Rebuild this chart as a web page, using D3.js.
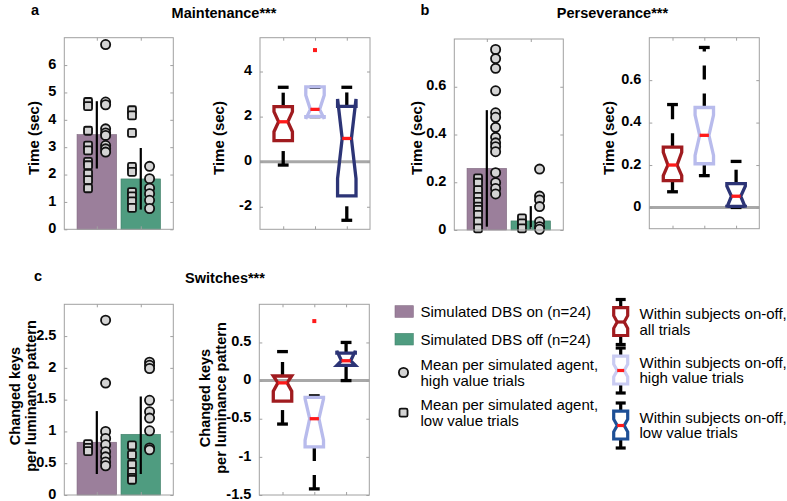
<!DOCTYPE html>
<html><head><meta charset="utf-8">
<script src="https://cdn.jsdelivr.net/npm/d3@7"></script>
<style>
body{margin:0;background:#fff}
svg{display:block}
text{font-family:Arial,Helvetica,"Liberation Sans",sans-serif;fill:#000}
</style>
</head><body>
<svg id="chart" width="787" height="501"></svg>
<script>
// ---------------- DATA ----------------
const groupNames = ["Simulated DBS on (n=24)", "Simulated DBS off (n=24)"];
const boxNames = ["all trials", "high value trials", "low value trials"];

// Panel a: Maintenance
const maintMeans = [3.46, 1.84];
const maintErrLo = [2.22, 0.72];
const maintErrHi = [4.68, 2.97];
const maintOnLow = [4.65, 4.5, 3.6, 3.06, 2.88, 2.46, 2.34, 2.03, 1.8, 1.5];
const maintOnHigh = [6.75, 4.65, 4.55, 3.67, 3.52, 3.43, 3.06, 2.94, 2.82];
const maintOffLow = [4.35, 4.16, 3.52, 2.28, 2.1, 1.36, 1.2, 1.02, 0.78];
const maintOffHigh = [2.3, 1.85, 1.5, 1.3, 1.06, 0.76];
const maintBarTicks = [0, 1, 2, 3, 4, 5, 6];
const maintBarTickLabels = ["0", "1", "2", "3", "4", "5", "6"];
// boxes: [all, high, low]
const maintQ1 = [0.93, 2.0, -1.52];
const maintMed = [1.77, 2.32, 1.03];
const maintQ3 = [2.44, 3.32, 2.45];
const maintNotchLo = [1.33, 1.9, -0.75];
const maintNotchHi = [2.22, 2.95, 2.78];
const maintWhiskLo = [-0.15, 2.0, -2.6];
const maintWhiskHi = [3.3, 3.3, 3.3];
const maintOutliers = [[], [4.95], []];
const maintBoxTicks = [-2, 0, 2, 4];
const maintBoxTickLabels = ["-2", "0", "2", "4"];

// Panel b: Perseverance
const persMeans = [0.258, 0.038];
const persErrLo = [0.014, 0.005];
const persErrHi = [0.502, 0.1];
const persOnLow = [0.216, 0.198, 0.167, 0.139, 0.118, 0.098, 0.084, 0.063, 0.035, 0.007];
const persOnHigh = [0.756, 0.718, 0.677, 0.583, 0.491, 0.472, 0.43, 0.388, 0.365, 0.349, 0.328, 0.24, 0.198, 0.174, 0.151];
const persOffLow = [0.049, 0.028, 0.007];
const persOffHigh = [0.255, 0.142, 0.126, 0.098, 0.035, 0.014, 0.003];
const persBarTicks = [0, 0.2, 0.4, 0.6];
const persBarTickLabels = ["0", "0.2", "0.4", "0.6"];
const persQ1 = [0.127, 0.206, 0.005];
const persMed = [0.2, 0.34, 0.053];
const persQ3 = [0.284, 0.471, 0.112];
const persNotchLo = [0.15, 0.245, 0.0];
const persNotchHi = [0.26, 0.435, 0.1];
const persWhiskLo = [0.074, 0.15, 0.0];
const persWhiskHi = [0.485, 0.754, 0.217];
const persOutliers = [[], [], []];
const persBoxTicks = [0, 0.2, 0.4, 0.6];
const persBoxTickLabels = ["0", "0.2", "0.4", "0.6"];

// Panel c: Switches
const switchMeans = [0.83, 0.955];
const switchErrLo = [0.33, 0.33];
const switchErrHi = [1.32, 1.55];
const switchOnLow = [0.8, 0.74, 0.69];
const switchOnHigh = [2.75, 1.76, 1.0, 0.89, 0.79, 0.68, 0.6, 0.52, 0.46];
const switchOffLow = [0.78, 0.63, 0.48, 0.36, 0.27, 0.24];
const switchOffHigh = [2.09, 2.04, 1.99, 1.49, 1.31, 1.21, 1.01, 0.74, 0.71];
const switchBarTicks = [0, 0.5, 1, 1.5, 2, 2.5];
const switchBarTickLabels = ["0", "0.5", "1", "1.5", "2", "2.5"];
const switchQ1 = [-0.27, -0.87, 0.2];
const switchMed = [-0.03, -0.5, 0.26];
const switchQ3 = [0.06, -0.22, 0.36];
const switchNotchLo = [-0.14, -0.78, 0.2];
const switchNotchHi = [0.06, -0.24, 0.39];
const switchWhiskLo = [-0.57, -1.42, 0.0];
const switchWhiskHi = [0.38, -0.2, 0.5];
const switchOutliers = [[], [0.78], []];
const switchBoxTicks = [-1.5, -1, -0.5, 0, 0.5];
const switchBoxTickLabels = ["-1.5", "-1", "-0.5", "0", "0.5"];

// ---------------- STYLE ----------------
const FONT = "Arial,Helvetica,'Liberation Sans',sans-serif";
const barColors = ["#9b7f9b", "#4f9c80"];
const boxColors = ["#a01b1f", "#b8bbec", "#2c3476"];
const legendBoxColors = ["#a01b1f", "#c9cbf2", "#1d4f96"];
const frameColor = "#a0a0a0";

const svg = d3.select("#chart");

function drawFrame(g, L, T, R, B) {
  g.append("rect").attr("x", L).attr("y", T).attr("width", R - L).attr("height", B - T)
    .attr("fill", "none").attr("stroke", frameColor).attr("stroke-width", 1);
}

function styleAxis(sel) {
  sel.attr("font-family", FONT);
  sel.select(".domain").remove();
  sel.selectAll(".tick line").attr("stroke", frameColor).attr("stroke-width", 1);
  sel.selectAll(".tick text").attr("font-size", 14.5).attr("font-weight", "bold")
    .attr("font-family", FONT).attr("fill", "#000").attr("dy", "0.22em");
}

function drawAxes(g, x, y, L, T, R, B, ticks, labels, xTicks) {
  const la = g.append("g").attr("transform", `translate(${L},0)`)
    .call(d3.axisLeft(y).tickValues(ticks).tickFormat((d, i) => labels[i]).tickSize(-3).tickPadding(8));
  styleAxis(la);
  const ra = g.append("g").attr("transform", `translate(${R},0)`)
    .call(d3.axisRight(y).tickValues(ticks).tickFormat("").tickSize(-3));
  styleAxis(ra);
  const ba = g.append("g").attr("transform", `translate(0,${B})`)
    .call(d3.axisBottom(x).tickValues(xTicks).tickFormat("").tickSize(-3));
  styleAxis(ba);
  const ta = g.append("g").attr("transform", `translate(0,${T})`)
    .call(d3.axisTop(x).tickValues(xTicks).tickFormat("").tickSize(-3));
  styleAxis(ta);
}

function drawYLabel(g, lines, xs, cy, fs) {
  lines.forEach((t, i) => {
    g.append("text").attr("transform", `translate(${xs[i]},${cy}) rotate(-90)`)
      .attr("text-anchor", "middle").attr("dominant-baseline", "central")
      .attr("font-size", fs).attr("font-weight", "bold").text(t);
  });
}

function drawBarPanel(p) {
  const g = svg.append("g");
  const x = d3.scaleLinear().domain([0.26, 2.74]).range([p.L, p.R]);
  const y = d3.scaleLinear().domain(p.yDomain).range([p.B, p.T]);
  const cats = [1, 2];
  g.selectAll("rect.bar").data(p.means).enter().append("rect")
    .attr("x", (d, i) => x(cats[i] - 0.45))
    .attr("width", (d, i) => x(cats[i] + 0.45) - x(cats[i] - 0.45))
    .attr("y", d => y(d)).attr("height", d => y(p.yDomain[0]) - y(d))
    .attr("fill", (d, i) => barColors[i])
    .attr("stroke", (d, i) => d3.color(barColors[i]).darker(0.6)).attr("stroke-width", 0.6);
  g.selectAll("line.err").data(p.means).enter().append("line")
    .attr("x1", (d, i) => x(cats[i])).attr("x2", (d, i) => x(cats[i]))
    .attr("y1", (d, i) => y(p.errLo[i])).attr("y2", (d, i) => y(p.errHi[i]))
    .attr("stroke", "#000").attr("stroke-width", 2.2);
  p.low.forEach((arr, i) => {
    g.selectAll(null).data(arr).enter().append("rect")
      .attr("x", x(cats[i] - 0.2) - 4).attr("y", d => y(d) - 4)
      .attr("width", 8).attr("height", 8).attr("rx", 1.5)
      .attr("fill", "#d4d4d4").attr("stroke", "#111").attr("stroke-width", 1.8);
  });
  p.high.forEach((arr, i) => {
    g.selectAll(null).data(arr).enter().append("circle")
      .attr("cx", x(cats[i] + 0.2)).attr("cy", d => y(d)).attr("r", 4.6)
      .attr("fill", "#d4d4d4").attr("stroke", "#111").attr("stroke-width", 1.8);
  });
  drawFrame(g, p.L, p.T, p.R, p.B);
  drawAxes(g, x, y, p.L, p.T, p.R, p.B, p.ticks, p.tickLabels, cats);
  drawYLabel(g, p.ylabel, p.ylabelX, p.ylabelY, p.ylabelSize);
}

function notchPath(xc, hw, yq1, ynlo, ymed, ynhi, yq3) {
  const pts = [
    [xc - hw, yq1], [xc - hw, ynlo], [xc - hw / 2, ymed], [xc - hw, ynhi], [xc - hw, yq3],
    [xc + hw, yq3], [xc + hw, ynhi], [xc + hw / 2, ymed], [xc + hw, ynlo], [xc + hw, yq1]
  ];
  return d3.line()(pts) + "Z";
}

function drawBox(g, xc, hw, capHw, y, b, color, medColor, dash, lw) {
  g.append("line").attr("x1", xc).attr("x2", xc).attr("y1", y(b.q3)).attr("y2", y(b.whi))
    .attr("stroke", "#000").attr("stroke-width", lw).attr("stroke-dasharray", dash);
  g.append("line").attr("x1", xc).attr("x2", xc).attr("y1", y(b.wlo)).attr("y2", y(b.q1))
    .attr("stroke", "#000").attr("stroke-width", lw).attr("stroke-dasharray", dash);
  [b.whi, b.wlo].forEach(v => {
    g.append("line").attr("x1", xc - capHw).attr("x2", xc + capHw).attr("y1", y(v)).attr("y2", y(v))
      .attr("stroke", "#000").attr("stroke-width", lw);
  });
  g.append("path").attr("d", notchPath(xc, hw, y(b.q1), y(b.nlo), y(b.med), y(b.nhi), y(b.q3)))
    .attr("fill", "none").attr("stroke", color).attr("stroke-width", lw).attr("stroke-linejoin", "miter");
  g.append("line").attr("x1", xc - hw / 2).attr("x2", xc + hw / 2).attr("y1", y(b.med)).attr("y2", y(b.med))
    .attr("stroke", medColor).attr("stroke-width", lw);
}

function drawBoxPanel(p) {
  const g = svg.append("g");
  const x = d3.scaleLinear().domain([0.27, 3.73]).range([p.L, p.R]);
  const y = d3.scaleLinear().domain(p.yDomain).range([p.B, p.T]);
  const cats = [1, 2, 3];
  g.append("line").attr("x1", p.L).attr("x2", p.R).attr("y1", y(0)).attr("y2", y(0))
    .attr("stroke", "#a8a8a8").attr("stroke-width", 3);
  const hw = x(0.29) - x(0);
  const capHw = x(0.17) - x(0);
  cats.forEach((c, i) => {
    const b = {q1: p.q1[i], med: p.med[i], q3: p.q3[i], nlo: p.nlo[i], nhi: p.nhi[i], wlo: p.wlo[i], whi: p.whi[i]};
    drawBox(g, x(c), hw, capHw, y, b, boxColors[i], "#ff1a1a", "14,14", 3.3);
    g.selectAll(null).data(p.out[i]).enter().append("rect")
      .attr("x", x(c) - 2).attr("y", d => y(d) - 2).attr("width", 4).attr("height", 4)
      .attr("fill", "#ff1a1a");
  });
  drawFrame(g, p.L, p.T, p.R, p.B);
  drawAxes(g, x, y, p.L, p.T, p.R, p.B, p.ticks, p.tickLabels, cats);
  drawYLabel(g, p.ylabel, p.ylabelX, p.ylabelY, p.ylabelSize);
}

// ---------------- PANELS ----------------
drawBarPanel({L: 64.3, T: 37.7, R: 173.3, B: 229.3, yDomain: [0, 7],
  means: maintMeans, errLo: maintErrLo, errHi: maintErrHi,
  low: [maintOnLow, maintOffLow], high: [maintOnHigh, maintOffHigh],
  ticks: maintBarTicks, tickLabels: maintBarTickLabels,
  ylabel: ["Time (sec)"], ylabelX: [33], ylabelY: 138, ylabelSize: 15});

drawBoxPanel({L: 260, T: 37.7, R: 370, B: 229.3, yDomain: [-3, 5.5],
  q1: maintQ1, med: maintMed, q3: maintQ3, nlo: maintNotchLo, nhi: maintNotchHi,
  wlo: maintWhiskLo, whi: maintWhiskHi, out: maintOutliers,
  ticks: maintBoxTicks, tickLabels: maintBoxTickLabels,
  ylabel: ["Time (sec)"], ylabelX: [218], ylabelY: 138, ylabelSize: 15});

drawBarPanel({L: 454.3, T: 39, R: 563.3, B: 230, yDomain: [0, 0.8],
  means: persMeans, errLo: persErrLo, errHi: persErrHi,
  low: [persOnLow, persOffLow], high: [persOnHigh, persOffHigh],
  ticks: persBarTicks, tickLabels: persBarTickLabels,
  ylabel: ["Time (sec)"], ylabelX: [416], ylabelY: 138, ylabelSize: 15});

drawBoxPanel({L: 649.3, T: 37.7, R: 759.3, B: 228.7, yDomain: [-0.1, 0.8],
  q1: persQ1, med: persMed, q3: persQ3, nlo: persNotchLo, nhi: persNotchHi,
  wlo: persWhiskLo, whi: persWhiskHi, out: persOutliers,
  ticks: persBoxTicks, tickLabels: persBoxTickLabels,
  ylabel: ["Time (sec)"], ylabelX: [608], ylabelY: 138, ylabelSize: 15});

drawBarPanel({L: 64.3, T: 304.3, R: 173.3, B: 495, yDomain: [0, 3],
  means: switchMeans, errLo: switchErrLo, errHi: switchErrHi,
  low: [switchOnLow, switchOffLow], high: [switchOnHigh, switchOffHigh],
  ticks: switchBarTicks, tickLabels: switchBarTickLabels,
  ylabel: ["Changed keys", "per luminance pattern"], ylabelX: [15, 31], ylabelY: 396, ylabelSize: 14.5});

drawBoxPanel({L: 259.3, T: 304.3, R: 369.3, B: 495, yDomain: [-1.5, 1],
  q1: switchQ1, med: switchMed, q3: switchQ3, nlo: switchNotchLo, nhi: switchNotchHi,
  wlo: switchWhiskLo, whi: switchWhiskHi, out: switchOutliers,
  ticks: switchBoxTicks, tickLabels: switchBoxTickLabels,
  ylabel: ["Changed keys", "per luminance pattern"], ylabelX: [205, 221], ylabelY: 398, ylabelSize: 14.5});

// ---------------- TITLES ----------------
const titles = [
  {t: "a", x: 31, y: 15, anchor: "start"},
  {t: "Maintenance***", x: 224, y: 18, anchor: "middle"},
  {t: "b", x: 420.5, y: 15, anchor: "start"},
  {t: "Perseverance***", x: 612.5, y: 18, anchor: "middle"},
  {t: "c", x: 34, y: 280.5, anchor: "start"},
  {t: "Switches***", x: 225, y: 283, anchor: "middle"}
];
titles.forEach(d => {
  svg.append("text").attr("x", d.x).attr("y", d.y).attr("text-anchor", d.anchor)
    .attr("font-size", 14.5).attr("font-weight", "bold").text(d.t);
});

// ---------------- LEGEND ----------------
const lg = svg.append("g");
[0, 1].forEach(i => {
  const cy = [311.5, 339.2][i];
  lg.append("rect").attr("x", 395).attr("y", cy - 5.8).attr("width", 18.3).attr("height", 11.6)
    .attr("fill", barColors[i]).attr("stroke", d3.color(barColors[i]).darker(0.5)).attr("stroke-width", 0.6);
  lg.append("text").attr("x", 420.5).attr("y", cy).attr("dominant-baseline", "central")
    .attr("font-size", 15).text(groupNames[i]);
});
lg.append("circle").attr("cx", 403.5).attr("cy", 372.5).attr("r", 4.6)
  .attr("fill", "#d4d4d4").attr("stroke", "#111").attr("stroke-width", 1.8);
lg.append("rect").attr("x", 399.5).attr("y", 408.7).attr("width", 8).attr("height", 8).attr("rx", 1.5)
  .attr("fill", "#d4d4d4").attr("stroke", "#111").attr("stroke-width", 1.8);
const markerText = [["Mean per simulated agent,", "high value trials"], ["Mean per simulated agent,", "low value trials"]];
markerText.forEach((lines, k) => {
  lines.forEach((t, j) => {
    lg.append("text").attr("x", 420.5).attr("y", [364.3, 404.3][k] + j * 16.3)
      .attr("dominant-baseline", "central").attr("font-size", 15).text(t);
  });
});
const iconCenters = [322, 370.5, 425.5];
const iconShape = {wlo: 0, q1: 0.2, nlo: 0.36, med: 0.5, nhi: 0.64, q3: 0.82, whi: 1};
iconCenters.forEach((cy, i) => {
  const yi = d3.scaleLinear().domain([0, 1]).range([cy + 22.5, cy - 22.5]);
  drawBox(lg, 620.7, 7, 5, yi, iconShape, legendBoxColors[i], i === 0 ? legendBoxColors[0] : "#ff1a1a", null, 3.2);
  lg.append("text").attr("x", 639.5).attr("y", cy - 8.5).attr("dominant-baseline", "central")
    .attr("font-size", 15).text("Within subjects on-off,");
  lg.append("text").attr("x", 639.5).attr("y", cy + 7.3).attr("dominant-baseline", "central")
    .attr("font-size", 15).text(boxNames[i]);
});
</script>
</body></html>
